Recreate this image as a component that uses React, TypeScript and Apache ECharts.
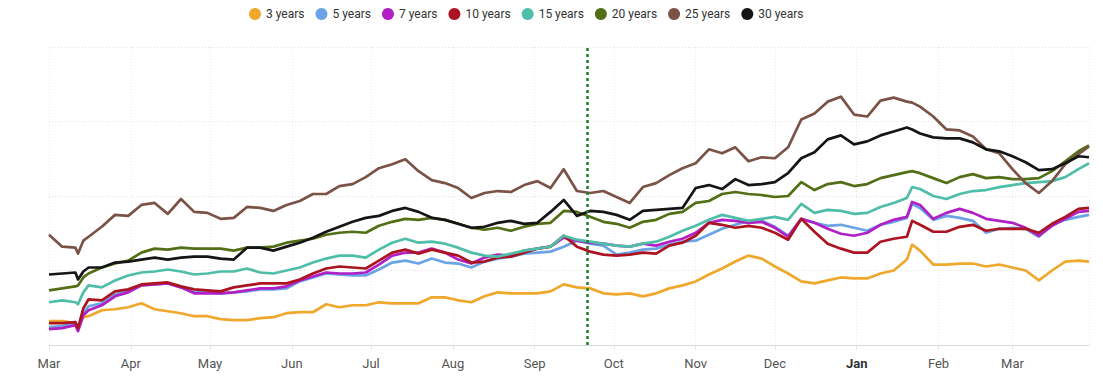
import React, { useEffect, useRef } from 'react';
import * as echarts from 'echarts';

const dates = [
  '2022-03-01','2022-03-06','2022-03-11','2022-03-12','2022-03-14','2022-03-16','2022-03-21','2022-03-26','2022-03-31',
  '2022-04-05','2022-04-10','2022-04-15','2022-04-20','2022-04-25','2022-04-30',
  '2022-05-05','2022-05-10','2022-05-15','2022-05-20','2022-05-25','2022-05-30',
  '2022-06-04','2022-06-09','2022-06-14','2022-06-19','2022-06-24','2022-06-29',
  '2022-07-04','2022-07-09','2022-07-14','2022-07-19','2022-07-24','2022-07-29',
  '2022-08-03','2022-08-08','2022-08-13','2022-08-18','2022-08-23','2022-08-28',
  '2022-09-02','2022-09-07','2022-09-12','2022-09-17','2022-09-22','2022-09-27',
  '2022-10-02','2022-10-07','2022-10-12','2022-10-17','2022-10-22','2022-10-27',
  '2022-11-01','2022-11-06','2022-11-11','2022-11-16','2022-11-21','2022-11-26',
  '2022-12-01','2022-12-06','2022-12-11','2022-12-16','2022-12-21','2022-12-26','2022-12-31',
  '2023-01-05','2023-01-10','2023-01-15','2023-01-20','2023-01-22','2023-01-25','2023-01-30',
  '2023-02-04','2023-02-09','2023-02-14','2023-02-19','2023-02-24',
  '2023-03-01','2023-03-06','2023-03-11','2023-03-16','2023-03-21','2023-03-26','2023-03-30'
];

const y3 = [5.49,5.49,5.47,5.43,5.53,5.54,5.60,5.61,5.63,5.67,5.61,5.59,
  5.57,5.54,5.54,5.51,5.50,5.50,5.52,5.53,5.57,5.58,
  5.58,5.66,5.63,5.65,5.65,5.68,5.67,5.67,5.67,5.73,
  5.73,5.70,5.68,5.74,5.78,5.77,5.77,5.77,5.79,5.86,
  5.83,5.82,5.77,5.76,5.77,5.74,5.77,5.82,5.85,5.89,
  5.96,6.02,6.09,6.15,6.12,6.04,5.97,5.89,5.87,5.90,
  5.93,5.92,5.92,5.97,6.00,6.11,6.26,6.20,6.06,6.06,6.07,
  6.07,6.04,6.06,6.03,6.00,5.90,6.00,6.09,6.10,6.09];

const y5 = [5.43,5.44,5.47,5.40,5.57,5.64,5.67,5.76,5.79,5.85,5.86,5.87,
  5.83,5.78,5.78,5.77,5.78,5.79,5.81,5.81,5.82,5.89,
  5.93,5.97,5.96,5.95,5.95,6.01,6.08,6.10,6.07,6.12,
  6.08,6.07,6.03,6.09,6.12,6.14,6.17,6.18,6.19,6.24,
  6.30,6.27,6.25,6.16,6.18,6.21,6.22,6.26,6.29,6.30,
  6.36,6.42,6.46,6.50,6.50,6.44,6.35,6.52,6.48,6.45,
  6.46,6.43,6.40,6.46,6.49,6.53,6.67,6.63,6.51,6.55,6.53,
  6.50,6.38,6.42,6.43,6.42,6.34,6.46,6.51,6.54,6.56];

const y7 = [5.41,5.42,5.45,5.39,5.55,5.60,5.65,5.74,5.78,5.85,5.86,5.87,
  5.83,5.77,5.77,5.77,5.78,5.80,5.82,5.82,5.84,5.90,
  5.94,5.98,5.97,5.97,5.98,6.06,6.15,6.18,6.18,6.22,
  6.18,6.11,6.07,6.13,6.16,6.15,6.20,6.22,6.24,6.33,
  6.30,6.28,6.27,6.25,6.24,6.27,6.25,6.29,6.32,6.38,
  6.48,6.51,6.50,6.48,6.49,6.43,6.34,6.52,6.48,6.42,
  6.37,6.35,6.38,6.46,6.51,6.54,6.69,6.66,6.52,6.58,6.62,
  6.58,6.52,6.50,6.48,6.43,6.35,6.45,6.52,6.59,6.60];

const y10 = [5.47,5.47,5.48,5.42,5.62,5.71,5.70,5.79,5.81,5.86,5.87,5.88,
  5.84,5.81,5.80,5.79,5.83,5.85,5.87,5.87,5.87,5.91,
  5.97,6.02,6.04,6.03,6.02,6.10,6.18,6.21,6.17,6.21,
  6.18,6.15,6.08,6.09,6.13,6.14,6.18,6.22,6.24,6.35,
  6.24,6.19,6.16,6.15,6.16,6.18,6.17,6.25,6.28,6.35,
  6.48,6.46,6.43,6.45,6.43,6.38,6.31,6.52,6.39,6.27,
  6.22,6.18,6.18,6.29,6.32,6.34,6.50,6.46,6.39,6.39,6.44,
  6.46,6.40,6.42,6.42,6.42,6.38,6.47,6.54,6.62,6.63];

const y15 = [5.68,5.70,5.68,5.66,5.78,5.85,5.83,5.90,5.95,5.98,5.99,6.01,
  5.99,5.96,5.97,5.99,5.99,6.02,5.98,5.97,6.00,6.03,
  6.08,6.12,6.15,6.15,6.13,6.21,6.28,6.32,6.28,6.29,
  6.27,6.23,6.18,6.15,6.14,6.17,6.20,6.22,6.24,6.35,
  6.31,6.29,6.27,6.25,6.24,6.27,6.29,6.34,6.40,6.45,
  6.51,6.56,6.53,6.50,6.52,6.54,6.51,6.67,6.58,6.61,
  6.60,6.57,6.58,6.64,6.68,6.73,6.84,6.82,6.75,6.72,6.77,
  6.80,6.81,6.84,6.86,6.88,6.89,6.90,6.94,7.02,7.08];

const y20 = [5.80,5.82,5.84,5.85,5.93,5.97,6.03,6.07,6.10,6.18,6.22,6.21,
  6.23,6.22,6.22,6.22,6.20,6.23,6.23,6.24,6.28,6.30,
  6.32,6.36,6.38,6.39,6.38,6.45,6.49,6.52,6.51,6.53,
  6.51,6.47,6.43,6.41,6.43,6.40,6.44,6.47,6.48,6.60,
  6.59,6.54,6.49,6.47,6.43,6.49,6.51,6.57,6.59,6.68,
  6.70,6.77,6.79,6.77,6.76,6.74,6.75,6.89,6.81,6.87,
  6.89,6.85,6.87,6.93,6.96,6.99,7.00,6.98,6.93,6.88,6.94,
  6.97,6.93,6.94,6.92,6.92,6.93,7.00,7.10,7.20,7.26];

const y25 = [6.36,6.24,6.23,6.17,6.30,6.34,6.44,6.56,6.55,6.66,6.68,6.57,
  6.72,6.59,6.58,6.52,6.53,6.64,6.63,6.60,6.66,6.70,
  6.77,6.77,6.85,6.87,6.94,7.03,7.07,7.12,7.00,6.91,
  6.88,6.83,6.73,6.78,6.80,6.79,6.86,6.90,6.83,7.02,
  6.80,6.78,6.80,6.74,6.68,6.84,6.88,6.96,7.03,7.08,
  7.22,7.18,7.24,7.10,7.14,7.13,7.24,7.52,7.58,7.70,
  7.75,7.57,7.55,7.71,7.74,7.70,7.69,7.65,7.55,7.42,7.41,
  7.35,7.22,7.18,7.02,6.88,6.78,6.90,7.07,7.17,7.25];

const y30 = [5.96,5.97,5.98,5.91,5.99,6.03,6.03,6.08,6.09,6.11,6.13,6.11,
  6.13,6.14,6.14,6.12,6.11,6.23,6.23,6.20,6.24,6.28,
  6.33,6.39,6.44,6.49,6.53,6.55,6.60,6.63,6.59,6.53,
  6.51,6.47,6.43,6.44,6.48,6.50,6.47,6.48,6.59,6.71,
  6.55,6.60,6.59,6.56,6.51,6.60,6.61,6.62,6.63,6.83,
  6.86,6.82,6.92,6.86,6.87,6.89,6.98,7.13,7.19,7.32,
  7.36,7.27,7.30,7.36,7.40,7.44,7.42,7.38,7.34,7.33,7.33,
  7.29,7.22,7.20,7.15,7.09,7.01,7.02,7.08,7.15,7.14];

const seriesNames = ['3 years', '5 years', '7 years', '10 years', '15 years', '20 years', '25 years', '30 years'];
const seriesColors = ['#efa72c', '#6aa4e6', '#b21fc4', '#ab1420', '#4fbea8', '#526f15', '#7b5346', '#151515'];
const monthNames = ['Jan', 'Feb', 'Mar', 'Apr', 'May', 'Jun', 'Jul', 'Aug', 'Sep', 'Oct', 'Nov', 'Dec'];
const markerDate = '2022-09-21';

export default function App() {
  const ref = useRef<HTMLDivElement>(null);
  useEffect(() => {
    if (!ref.current) return;
    const chart = echarts.init(ref.current, null, { renderer: 'svg' });
    const all = [y3, y5, y7, y10, y15, y20, y25, y30];
    const toTs = (s: string) => new Date(s + 'T00:00:00').getTime();
    chart.setOption({
      animation: false,
      color: seriesColors,
      legend: {
        left: 244,
        top: 3,
        icon: 'circle',
        itemWidth: 12,
        itemHeight: 12,
        itemGap: 11,
        data: seriesNames,
        textStyle: { fontSize: 12, color: '#333', fontFamily: 'Roboto' },
      },
      grid: { left: 49, right: 14, top: 47, bottom: 34 },
      xAxis: {
        type: 'time',
        min: toTs(dates[0]),
        max: toTs(dates[dates.length - 1]),
        splitNumber: 14,
        minInterval: 28 * 86400000,
        axisLine: { lineStyle: { color: '#dadada', width: 1 } },
        axisTick: { show: true, length: 5, lineStyle: { color: '#e6e6e6' } },
        splitLine: { show: true, lineStyle: { color: '#e8e8e8', type: [1, 2] } },
        axisLabel: {
          color: '#555',
          fontSize: 13,
          fontFamily: 'Roboto',
          margin: 12,
          hideOverlap: false,
          formatter: (v: number) => {
            const d = new Date(v);
            const m = monthNames[d.getMonth()];
            return d.getMonth() === 0 ? '{b|' + m + '}' : m;
          },
          rich: { b: { fontWeight: 'bold', color: '#333', fontSize: 13, fontFamily: 'Roboto' } },
        },
      },
      yAxis: {
        type: 'value',
        min: 5.25,
        max: 8.25,
        interval: 0.75,
        axisLabel: { show: false },
        axisLine: { show: false },
        axisTick: { show: false },
        splitLine: { lineStyle: { color: '#e2e2e2', type: [1, 2] } },
      },
      series: seriesNames.map((name, i) => ({
        name,
        type: 'line',
        showSymbol: false,
        symbol: 'none',
        lineStyle: { width: 2.7, color: seriesColors[i], join: 'round' },
        itemStyle: { color: seriesColors[i] },
        data: dates.map((d, j) => [d, all[i][j]]),
        ...(i === 0
          ? {
              markLine: {
                silent: true,
                symbol: 'none',
                label: { show: false },
                lineStyle: { color: '#1d7f2c', type: [3, 3], width: 2.5 },
                data: [{ xAxis: markerDate }],
              },
            }
          : {}),
      })),
    });
    return () => chart.dispose();
  }, []);
  return <div ref={ref} style={{ position: 'absolute', left: 0, top: 0, width: 1103, height: 379 }} />;
}
